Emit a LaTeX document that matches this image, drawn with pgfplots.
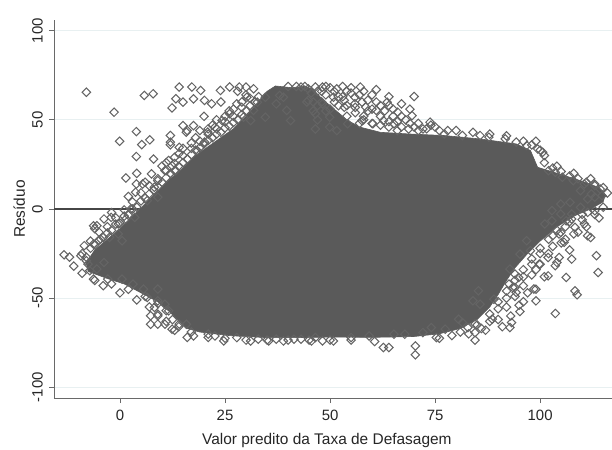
\documentclass[border=0pt]{standalone}
\usepackage{pgfplots}
\pgfplotsset{compat=1.18}
\usepackage{fontspec}
\setmainfont{Liberation Sans}
\definecolor{mk}{RGB}{90,90,90}
\definecolor{mko}{RGB}{100,100,100}
\definecolor{axc}{RGB}{105,105,105}
\definecolor{grd}{RGB}{232,240,241}
\definecolor{zl}{RGB}{70,70,70}
\begin{document}
\begin{tikzpicture}
\useasboundingbox (-54bp,-52bp) rectangle (558bp,398bp);
\begin{axis}[
  at={(0,0)}, anchor=south west,
  scale only axis, width=558bp, height=378bp,
  xmin=-15.7, xmax=117.1, ymin=-106, ymax=106,
  axis x line*=bottom, axis y line*=left,
  axis line style={axc, line width=0.9pt, -},
  xtick={0,25,50,75,100}, xticklabels={0,25,50,75,100},
  ytick={-100,-50,0,50,100}, yticklabels={-100,-50,0,50,100},
  tick align=outside, major tick length=5bp,
  tick style={axc, line width=0.9pt},
  ymajorgrids, grid style={grd, line width=0.8pt},
  every tick label/.append style={font=\fontsize{15}{18}\selectfont, text=black!85},
  xticklabel style={anchor=north, inner sep=0pt},
  xticklabel shift=7bp,
  yticklabel style={rotate=90, anchor=south, inner sep=0pt},
  yticklabel shift=6bp,
  xlabel={Valor predito da Taxa de Defasagem},
  ylabel={Resíduo},
  label style={font=\fontsize{15.5}{18}\selectfont, text=black!85},
  xlabel style={at={(axis description cs:0.489,0)}, anchor=base, yshift=-46bp, inner sep=0pt},
  ylabel style={at={(axis description cs:-0.052,0.5)}, anchor=base, inner sep=0pt},
  clip=true,
]
% zero line
\addplot[draw=zl, line width=1.6pt] coordinates {(-15.7,0) (117.1,0)};
% dense core of the cloud
\addplot[fill=mk, draw=mk, line width=0.6pt] coordinates {
(-8,-30) (-6,-23) (-3,-17) (0,-11) (3,-4) (6,3) (9,10) (12,17) (15,23) (18,30) (21,35)
(24,40) (27,45) (30,52) (33,60) (35,66) (37,69) (41,68) (44,69) (46,67) (48,62) (51,56)
(54,50) (57,46) (62,43) (68.7,42.1) (77.2,41.2) (85.7,39.3) (94.3,36.5) (97.7,32.8)
(99.4,23.4) (104.5,19.7) (109.6,15.9) (113.8,12.2) (115.5,8)
(115,4) (112,0) (108,-4) (104,-10) (100,-18) (97,-25) (94,-33) (92,-40) (90,-48) (88,-55)
(85,-62) (81,-67) (76,-70) (70,-71.5) (60,-72) (51.6,-71.8) (43.1,-72.1) (34.6,-72.1)
(26,-71) (19,-69) (16,-67) (14,-63) (12,-58) (9,-52) (5,-47) (1,-42) (-3,-39) (-7.6,-35)
} -- cycle;
% individual markers
\addplot[only marks, color=mko, mark=square, mark size=3pt,
  mark options={rotate=45, draw=mko, line width=1.05pt, fill=none}] coordinates {
(-8.0,65.5) (5.8,63.7) (7.9,64.6) (-1.4,54.3) (-0.1,38.0) (3.9,43.4) (5.2,36.1) (7.1,38.8)
(3.9,29.4) (1.4,17.4) (3.9,14.0) (5.4,14.0) (3.7,9.4) (7.5,19.7) (2.6,0) (14.1,68.4)
(12.4,56.7) (17.1,68.4) (19.2,66.5) (13.3,61.8) (15.0,59.9) (17.5,61.8) (20.1,60.9) (21.8,59.0)
(23.9,66.5) (26.1,68.4) (15.0,46.8) (17.5,46.8) (15.8,43.1) (12.0,41.2) (12.0,37.5) (14.1,34.6)
(18.4,32.8) (20.1,37.5) (20.9,43.1) (22.6,45.9) (24.3,49.6) (26.1,53.4) (11.6,27.2) (12.4,24.3)
(10.7,21.5) (9.0,15.9) (13.3,21.5) (8.2,12.2) (6.5,4.7) (9.0,6.6)
(28.4,68.4) (30.0,68.4) (31.8,67.4) (30.2,62.7) (34.6,62.7) (27.8,59.0) (29.4,51.5) (31.1,49.6)
(43.1,68.4) (44.8,67.4) (46.5,68.4) (48.2,68.4) (51.6,67.4) (57.2,68.4)
(44.8,60.9) (48.2,59.0) (50.8,62.7) (53.4,60.9) (55.9,62.7) (57.6,59.9)
(46.5,53.4) (49.9,51.5) (53.4,57.1) (55.9,59.0) (58.5,57.1)
(61.0,55.3) (63.6,59.9) (64.0,58.1) (66.1,54.3) (70.0,63.1)
(54.2,47.8) (57.6,49.6) (60.2,47.8) (62.7,49.6) (65.2,47.8)
(69.5,52.4) (73.8,48.7) (72.1,44.9) (68.7,44.9) (49.9,45.9) (51.6,44.0) (46.5,44.9)
(38.9,62.7) (37.2,59.0) (39.7,55.3) (34.6,51.5) (40.6,49.6) (31.8,55.3) (32.7,59.9) (38.0,63.7)
(77.2,42.1) (81.5,41.2) (85.7,41.2) (87.8,40.3) (91.7,39.3) (94.3,37.5) (96.8,35.6) (99.4,33.7) (100.6,31.8)
(102.0,21.5) (103.6,20.6) (105.3,17.8) (107.9,15.9) (110.5,14.0) (113.0,13.1) (114.3,11.2) (114.7,7.5)
(112.2,8.4) (109.6,10.3)
(111.3,-1.9) (110.5,-8.4) (111.3,-15.0) (113.4,-26.2) (113.8,-35.6) (107.5,-5.6) (108.3,-10.3)
(105.7,-18.7) (104.9,-13.1) (99.8,-30.9) (101.9,-27.2) (103.6,-31.8) (104.5,-27.2)
(101.9,-37.5) (106.2,-38.4) (107.5,-28.1) (108.3,-45.9) (108.8,-48.1) (103.6,-58.6)
(99.0,-51.5) (98.5,-44.9) (95.2,-57.5) (94.3,-46.8) (93.5,-44.0) (92.6,-42.1)
(94.0,-36.5) (94.9,-38.4) (92.8,-33.7) (92.8,-66.5) (93.2,-63.7) (88.6,-61.8) (89.0,-50.6)
(84.5,-73.6) (84.5,-69.3) (84.5,-64.6) (82.8,-66.5) (81.5,-63.7) (80.6,-61.8)
(85.7,-53.4) (84.0,-51.5) (85.3,-45.9) (97.7,-23.4) (95.2,-25.3) (96.8,-17.8)
(101.1,-8.4) (102.8,-6.6) (106.2,-6.6) (104.5,-14.0)
(70.3,-76.8) (70.3,-81.8) (62.7,-77.7) (64.0,-77.7) (75.3,-72.1) (77.4,-67.4) (74.1,-66.5)
(72.1,-69.3) (67.8,-70.2) (65.2,-70.2) (60.6,-74.3) (59.3,-71.2)
(50.8,-74.0) (48.2,-74.0) (45.6,-74.0) (43.1,-73.0) (38.9,-74.0) (35.4,-74.0) (31.1,-74.0)
(24.7,-74.0) (22.6,-71.2) (17.5,-71.2) (21.0,-70.2) (27.8,-72.1) (32.9,-73.0) (37.2,-73.0)
(41.4,-73.0) (46.5,-72.1) (55.0,-72.1)
(7.3,-64.6) (9.0,-64.6) (10.7,-64.6) (12.4,-67.4) (14.1,-64.6) (15.8,-64.6)
(7.3,-59.9) (9.0,-59.9) (8.2,-55.2) (10.7,-53.4) (9.0,-51.5) (11.6,-57.1)
(6.5,-49.6) (5.6,-44.9) (9.0,-44.9)
(-13.3,-25.7) (-9.3,-26.2) (-8.0,-29.0) (-8.5,-20.6) (-6.3,-19.7) (-6.3,-9.4) (-5.5,-9.4)
(-3.8,-5.6) (-2.1,-4.7) (-0.4,-8.4) (1.4,-5.6) (3.5,-4.7)
(-2.5,-15.9) (-4.6,-16.9) (-0.4,-14.0) (0.5,-17.8)
(-6.3,-39.3) (-7.2,-34.6) (-2.9,-39.3) (0.5,-39.3) (3.1,-42.1)
(-7.6,-30.9) (-5.5,-33.7) (-3.8,-30.0)
(111.3,5.6) (113.0,6.6) (107.1,3.7) (109.6,0.9) (104.9,2.8) (102.8,-0.9) (104.9,-2.8) (107.5,-2.8)
(-8,-27) (-6,-20) (-4,-16) (-2,-12) (0,-8) (2,-3.5) (4,1) (6,6) (8,10.5) (10,15) (12,20)
(14,24) (16,28) (18,33) (20,36.5) (22,40) (24,43) (26,46.5) (28,50) (30,55) (32,60)
(-9,-25) (-7,-18) (-5,-13) (-3,-10) (-1,-5) (1,-0.5) (3,4) (5,9) (7,13) (9,17) (11,21.5)
(13,25.5) (15,30) (17,34) (19,38) (21,42) (23,45) (25,49) (27,52) (29,57) (31,62)
(-6,-11) (-2,-2) (2,7) (6,15) (10,24) (14,31) (18,40) (22,47) (26,55) (30,64) (28,66)
(24,60) (20,52) (16,44) (12,36) (8,28) (4,20)
(-7,-22) (-5,-17.5) (-3,-13.5) (-1,-8.5) (1,-4) (3,0) (5,4.5) (7,8.5) (9,12.5) (11,17.5)
(13,21.5) (15,26) (17,30.5) (19,34.5) (21,38.5) (23,42) (25,45.5) (27,48.5) (29,53) (31,58)
(33,63) (13,29) (17,37) (21,45) (25,52) (29,60) (19,44) (23,50) (27,56) (11,26) (15,34)
(47,66) (49,64) (51,66) (53,63) (55,65) (48,60) (52,58) (56,57) (59,55) (62,52) (60,48)
(58,50) (64,46) (67,46) (70,46) (73,45) (76,44) (50,56) (54,52) (57,48) (47,50) (46,55)
(44.5,60) (45.5,65) (40,68.7) (42,68.7) (44,68.7) (49,68.7) (53,68.7) (55,68) (60,64)
(62,58) (65,52) (66,49) (68,50) (71,48) (74,47)
(47,58) (49,55) (51,60) (52,63) (54,58) (56,54) (58,52) (60,56) (61,60) (63,55) (65,56)
(67,52) (69,48) (59,61) (57,64) (54,66) (50,68) (62,47) (64,49) (66,44) (71,44) (75,46)
(78,44) (46,60) (48,66) (58,66) (61,67) (64,63) (67,59) (69,56)
(96,38) (98,36) (100,33) (101,30) (101,26) (103,23) (105,21) (107,18.5) (109,17) (111,15)
(113,14) (115,12) (116,9) (104,24) (108,20) (112,17) (99,38) (92,41) (88,42) (84,43) (80,44)
(115,1) (113,-3) (110,-6) (106,-10) (103,-15) (100,-22) (98,-28) (96,-34) (94,-40) (92,-46)
(90,-52) (88,-59) (85,-65) (81,-69) (76,-72.5)
(114,-5) (111,-10) (108,-14) (105,-19) (102,-25) (100,-31) (98,-37) (96,-43) (94,-49)
(92,-55) (90,-62) (87,-68)
(112,-16) (107,-23) (104,-30) (101,-38) (99,-45) (96,-52) (93,-60)
(113,-1) (110,-3) (107,-7) (104,-12) (102,-17) (100,-25) (98,-31) (96,-38) (94,-44)
(92,-50) (90,-56) (88,-63) (86,-67) (103,-21) (106,-17) (109,-13) (99,-34) (97,-47)
(95,-54) (91,-66) (83,-70) (79,-71)
(-9,-36) (-6,-40) (-2,-42) (2,-45) (6,-49) (9,-53) (11,-57) (12.5,-62) (14,-66) (17,-69)
(21,-72) (-11,-32) (-12,-27)
(-4,-43) (0,-47) (4,-51) (7,-55) (9,-59) (11,-63) (13,-68) (16,-72)
(55,-73.5) (50,-73.5) (45,-73.5) (40,-73.5) (35,-73.5) (30,-73.5) (25,-72.5)
};
\end{axis}
\end{tikzpicture}
\end{document}
